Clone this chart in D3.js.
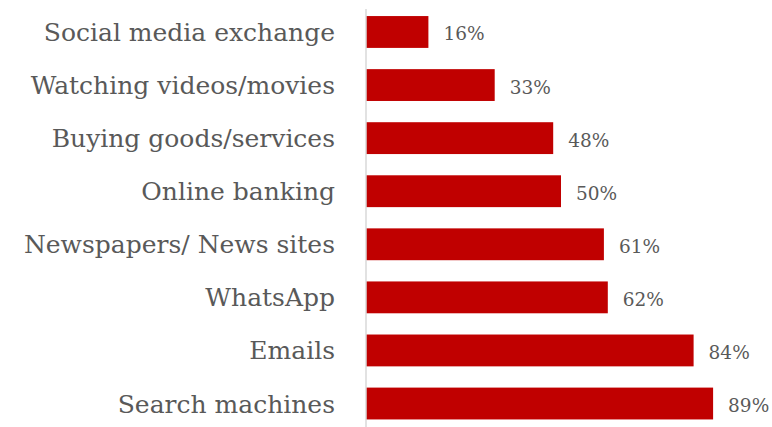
<!DOCTYPE html>
<html>
<head>
<meta charset="utf-8">
<script src="https://cdn.jsdelivr.net/npm/d3@7/dist/d3.min.js"></script>
<style>
  html, body { margin: 0; padding: 0; background: #fff; }
  svg { display: block; }
</style>
</head>
<body>
<svg id="chart" width="772" height="427"></svg>
<script>
// Share of users per online activity (%)
const categories = [
  "Social media exchange",
  "Watching videos/movies",
  "Buying goods/services",
  "Online banking",
  "Newspapers/ News sites",
  "WhatsApp",
  "Emails",
  "Search machines"
];
const values = [16, 33, 48, 50, 61, 62, 84, 89];

const svg = d3.select("#chart");
const axisX = 366;

const x = d3.scaleLinear().domain([0, 100]).range([axisX, axisX + 390]);
const y = d3.scaleBand()
  .domain(categories)
  .range([9, 426.5])
  .paddingInner(0.4)
  .paddingOuter(0.133);

// bars
svg.append("g")
  .selectAll("rect")
  .data(values)
  .join("rect")
  .attr("x", x(0))
  .attr("y", (d, i) => y(categories[i]))
  .attr("width", d => x(d) - x(0))
  .attr("height", y.bandwidth())
  .attr("fill", "#c00000");

// vertical category axis
const axis = d3.axisLeft(y).tickSize(0).tickPadding(31);
const gAxis = svg.append("g")
  .attr("transform", `translate(${axisX},0)`)
  .call(axis);
gAxis.select(".domain").attr("stroke", "#d9d9d9").attr("stroke-width", 1.5)
  .attr("d", `M0,${y.range()[0]}V${y.range()[1] + 4}`);
gAxis.selectAll(".tick text")
  .attr("font-family", "'DejaVu Serif', serif")
  .attr("font-size", 25)
  .attr("fill", "#595959")
  .attr("dy", "0.36em");

// value labels
svg.append("g")
  .selectAll("text")
  .data(values)
  .join("text")
  .attr("x", d => x(d) + 15)
  .attr("y", (d, i) => y(categories[i]) + y.bandwidth() / 2 + 2)
  .attr("dy", "0.35em")
  .attr("font-family", "'DejaVu Serif', serif")
  .attr("font-size", 18.5)
  .attr("fill", "#595959")
  .text(d => d + "%");
</script>
</body>
</html>
